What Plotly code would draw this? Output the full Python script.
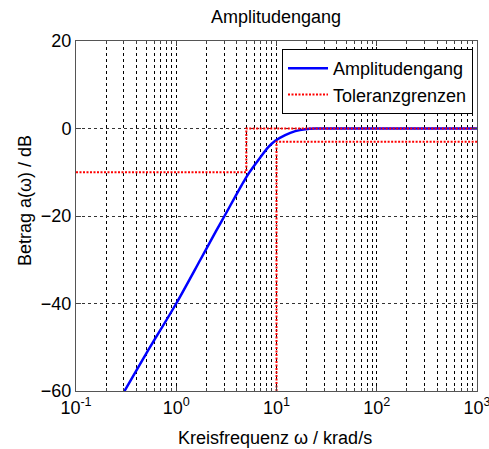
import plotly.graph_objects as go

# Data
freq = [0.296, 0.5, 1.0, 1.74, 2.5, 3.03, 4.0, 4.69, 5.3, 6.89, 8.33, 9.72, 12.2, 15.4, 19.4, 24.4, 50.0, 100.0, 1000.0]
gain_db = [-60.5, -51.5, -40.0, -30.0, -23.4, -20.0, -15.0, -12.2, -10.2, -6.6, -4.2, -2.8, -1.5, -0.6, -0.15, 0.0, 0.0, 0.0, 0.0]

tol_upper_x = [0.1, 5, 5, 1000]
tol_upper_y = [-10, -10, 0, 0]
tol_lower_x = [10, 10, 1000]
tol_lower_y = [-60, -3, -3]

x_tickvals = [0.1, 1, 10, 100, 1000]
x_ticktext = ["10<sup>-1</sup>", "10<sup>0</sup>", "10<sup>1</sup>", "10<sup>2</sup>", "10<sup>3</sup>"]
y_tickvals = [-60, -40, -20, 0, 20]

minor_vals = [m * d for d in x_tickvals[:-1] for m in range(2, 10)]

FONT = "Liberation Sans, Arial, sans-serif"

fig = go.Figure()
fig.add_trace(go.Scatter(x=freq, y=gain_db, mode="lines", name="Amplitudengang",
                         line=dict(color="#0000ff", width=2.5, shape="spline", smoothing=0.8)))
fig.add_trace(go.Scatter(x=tol_upper_x, y=tol_upper_y, mode="lines", name="Toleranzgrenzen",
                         line=dict(color="#ff0000", width=2, dash="2px,1.5px")))
fig.add_trace(go.Scatter(x=tol_lower_x, y=tol_lower_y, mode="lines", name="Toleranzgrenzen",
                         showlegend=False,
                         line=dict(color="#ff0000", width=2, dash="2px,1.5px")))

fig.update_layout(
    width=489, height=449,
    margin=dict(l=76, r=12, t=41, b=58, autoexpand=False),
    paper_bgcolor="white", plot_bgcolor="white",
    font=dict(family=FONT, size=18, color="black"),
    title=dict(text="Amplitudengang", x=276 / 489, xanchor="center", xref="container",
               y=1 - 17 / 449, yanchor="middle", yref="container",
               font=dict(size=18, color="black")),
    showlegend=True,
    legend=dict(x=(473 - 76) / 401, xanchor="right", y=1 - 8 / 350, yanchor="top",
                bgcolor="white", bordercolor="black", borderwidth=1,
                font=dict(size=18), tracegroupgap=0, itemwidth=40),
    xaxis=dict(type="log", range=[-1, 3.0000001], tickvals=x_tickvals, ticktext=x_ticktext,
               automargin=False,
               showgrid=True, gridcolor="black", griddash="dot", gridwidth=1,
               ticks="inside", ticklen=5, tickcolor="#444",
               showline=True, linecolor="#555", linewidth=1, mirror="ticks",
               zeroline=False, tickfont=dict(size=18), ticklabeloverflow="allow",
               minor=dict(tickvals=minor_vals, showgrid=True, gridcolor="black",
                          griddash="dot", gridwidth=1, ticks="inside", ticklen=3,
                          tickcolor="#444")),
    yaxis=dict(range=[-60, 20], tickvals=y_tickvals, automargin=False,
               showgrid=True, gridcolor="#333", griddash="dot", gridwidth=1,
               ticks="inside", ticklen=5, tickcolor="#444",
               showline=True, linecolor="#555", linewidth=1, mirror="ticks",
               zeroline=False, tickfont=dict(size=18)),
    annotations=[
        dict(text="Kreisfrequenz ω / krad/s", xref="paper", yref="paper",
             x=(275 - 76) / 401, y=-(438 - 391) / 350, xanchor="center", yanchor="middle",
             showarrow=False, font=dict(size=18)),
        dict(text="Betrag a(ω) / dB", xref="paper", yref="paper",
             x=-(76 - 25) / 401, y=(391 - 201) / 350, xanchor="center", yanchor="middle",
             textangle=-90, showarrow=False, font=dict(size=18)),
    ],
)

fig.write_html("out.html")
